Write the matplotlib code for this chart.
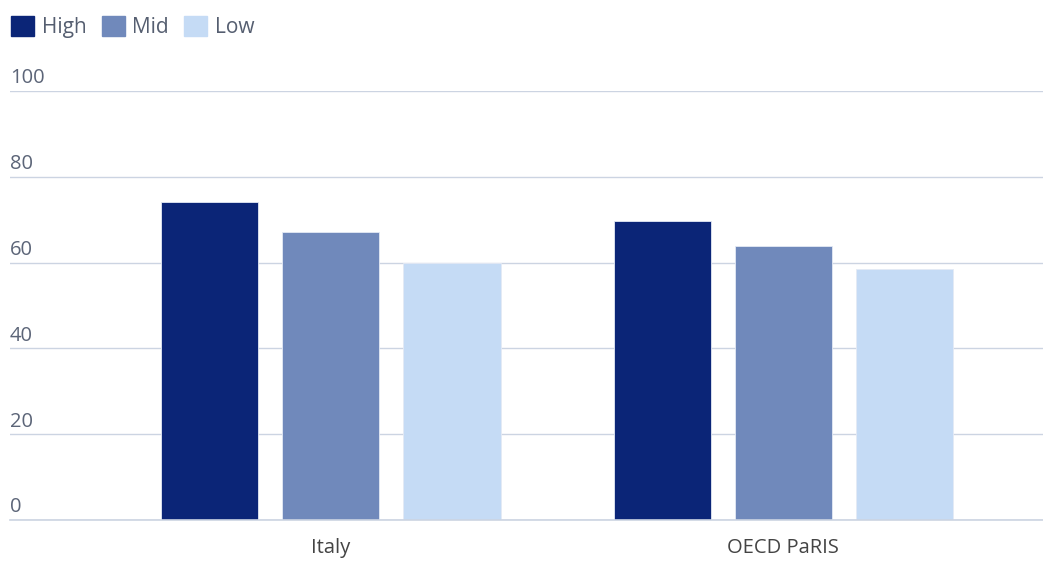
import numpy as np
import matplotlib.pyplot as plt
from matplotlib.patches import Rectangle
import matplotlib.transforms as mtransforms

plt.rcParams['font.family'] = ['Open Sans', 'DejaVu Sans']

categories = ['Italy', 'OECD PaRIS']
series = ['High', 'Mid', 'Low']
values = {
    'High': [74.1, 69.7],
    'Mid': [67.1, 63.9],
    'Low': [59.9, 58.6],
}
colors = {'High': '#0b2577', 'Mid': '#7089bb', 'Low': '#c5dbf5'}
yticks = [0, 20, 40, 60, 80, 100]

fig = plt.figure(figsize=(10.43, 5.64), dpi=100)
ax = fig.add_axes([10 / 1043, 44 / 564, 1033 / 1043, 429 / 564])

x = np.arange(len(categories))
width = 0.2146
step = 0.2677
for i, s in enumerate(series):
    ax.bar(x + (i - 1) * step, values[s], width=width, color=colors[s],
           edgecolor='#e4eaf5', linewidth=0.6, zorder=3)

ax.set_xlim(-0.710, 1.575)
ax.set_ylim(0, 100)
for sp in ax.spines.values():
    sp.set_visible(False)
ax.set_yticks(yticks)
ax.set_yticklabels([])
ax.tick_params(axis='y', length=0)
ax.grid(axis='y', color='#ccd4e2', linewidth=1.0, zorder=0)
ax.axhline(0, color='#ccd4e2', linewidth=1.2, zorder=4, clip_on=False)
ax.set_axisbelow(True)

# y labels sit above gridlines at the left edge
trans = mtransforms.blended_transform_factory(ax.transAxes, ax.transData)
for t in yticks:
    ax.text(0.0, t + 0.6, str(t), transform=trans, ha='left', va='bottom',
            fontsize=14.5, color='#5c6578')

ax.set_xticks(x)
ax.set_xticklabels(categories, fontsize=14.5, color='#444444')
ax.tick_params(axis='x', length=0, pad=13)

# legend at top left
handles = [Rectangle((0, 0), 1, 1, color=colors[s]) for s in series]
fig.legend(handles, series, loc='upper left', bbox_to_anchor=(-0.007, 1.005),
           ncol=3, frameon=False, fontsize=15, handlelength=1.1, handleheight=1.1,
           handletextpad=0.35, columnspacing=0.75, labelcolor='#555e70')

fig.savefig('out.png', dpi=100)
